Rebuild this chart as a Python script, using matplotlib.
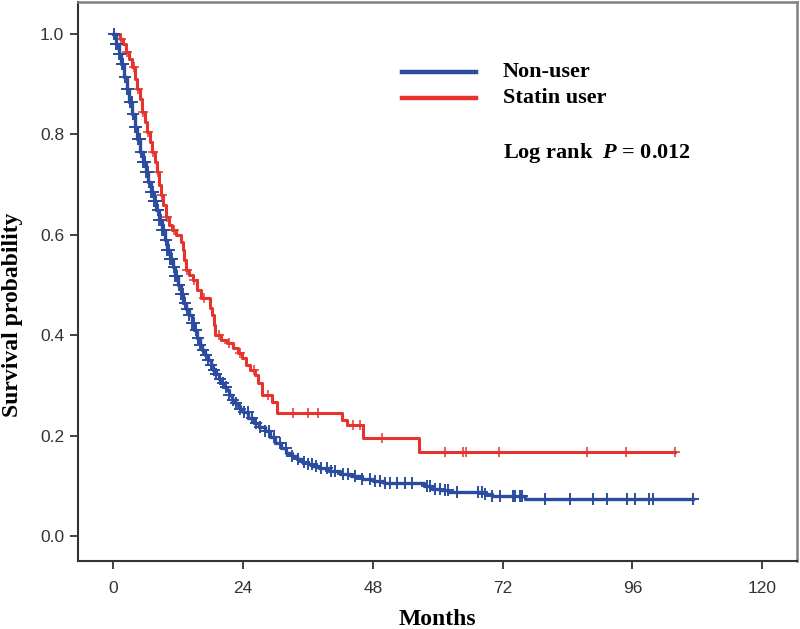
import numpy as np
import matplotlib.pyplot as plt
from matplotlib.lines import Line2D

# Kaplan-Meier step data (months, survival probability)
non_t = [0, 0.5, 1.0, 1.5, 2.0, 2.5, 3.0, 3.5, 4.0, 4.5, 5.0, 5.5, 6.0, 6.5, 7.0, 7.5,
         8.0, 8.5, 9.0, 9.5, 10.0, 10.5, 11.0, 11.5, 12.0, 12.5, 13.0, 13.5, 14.0, 14.5,
         15.0, 15.5, 16.0, 16.5, 17.0, 17.5, 18.0, 18.5, 19.0, 19.5, 20.0, 20.5, 21.0,
         21.5, 22.0, 22.5, 23.0, 23.5, 24.0, 25.0, 26.0, 27.0, 28.0, 29.0, 30.0, 31.0,
         32.0, 33.0, 34.0, 35.0, 36.0, 37.0, 38.0, 40.0, 42.0, 44.0, 46.0, 48.0, 50.0,
         57.5, 59.0, 60.5, 62.0, 68.8, 70.0, 76.2, 107.2]
non_s = [1.0, 0.98, 0.96, 0.94, 0.915, 0.89, 0.865, 0.84, 0.815, 0.79, 0.765, 0.745,
         0.725, 0.705, 0.685, 0.668, 0.65, 0.63, 0.61, 0.59, 0.57, 0.552, 0.535, 0.518,
         0.50, 0.483, 0.465, 0.452, 0.44, 0.425, 0.41, 0.395, 0.38, 0.37, 0.36, 0.35,
         0.34, 0.331, 0.322, 0.313, 0.305, 0.297, 0.29, 0.28, 0.27, 0.264, 0.258, 0.252,
         0.246, 0.236, 0.226, 0.218, 0.21, 0.198, 0.186, 0.175, 0.166, 0.159, 0.153,
         0.148, 0.143, 0.139, 0.135, 0.129, 0.124, 0.12, 0.114, 0.109, 0.106,
         0.100, 0.094, 0.091, 0.088, 0.084, 0.080, 0.073, 0.073]
non_cens = [0.2, 0.5, 0.7, 1.0, 1.3, 1.6, 1.9, 2.2, 2.5, 2.8, 3.1, 3.4, 3.7, 4.0, 4.3,
            4.6, 4.9, 5.2, 5.5, 5.8, 6.1, 6.4, 6.7, 7.0, 7.3, 7.6, 7.9, 8.2, 8.5, 8.8,
            9.1, 9.4, 9.7, 10.0, 10.3, 10.6, 10.9, 11.2, 11.5, 11.8, 12.1, 12.5, 12.9,
            13.3, 13.7, 14.1, 14.5, 14.9, 15.3, 15.7, 16.1, 16.6, 17.1, 17.6, 18.1, 18.6,
            19.1, 19.7, 20.3, 20.9, 21.5, 22.1, 22.8, 23.5, 24.2, 24.9, 25.6, 26.4, 27.2,
            28.0, 28.9, 29.8, 30.8, 31.9, 33.0, 34.1, 35.3, 36.0, 36.8, 37.5, 38.5, 39.5,
            40.2, 41.0, 42.5, 43.5, 44.7, 46.0, 47.5, 48.5, 49.4, 50.3, 51.2, 52.5, 54.0,
            55.3, 58.0, 58.6, 59.5, 60.4, 61.4, 61.9, 63.6, 67.5, 68.2, 68.8, 70.1, 71.5,
            73.9, 74.3, 75.2, 75.6, 79.9, 84.5, 88.7, 91.3, 95.0, 96.5, 99.1, 99.8, 107.2]

statin_t = [0, 1.2, 1.8, 2.4, 3.0, 3.5, 4.0, 4.4, 4.9, 5.4, 5.9, 6.3, 6.8, 7.2, 7.7, 8.1,
            8.5, 8.9, 9.3, 9.7, 10.3, 10.9, 11.6, 12.5, 12.9, 13.1, 13.4, 14.0, 14.8, 15.5,
            16.2, 17.9, 18.3, 18.6, 18.9, 20.0, 21.0, 22.2, 23.0, 23.8, 24.5, 25.3, 26.2,
            26.8, 27.5, 29.4, 30.3, 42.3, 43.3, 46.2, 56.6, 103.9]
statin_s = [1.0, 0.99, 0.98, 0.965, 0.95, 0.935, 0.91, 0.89, 0.87, 0.845, 0.825, 0.805,
            0.785, 0.765, 0.745, 0.725, 0.70, 0.68, 0.66, 0.635, 0.62, 0.61, 0.60, 0.585,
            0.57, 0.55, 0.53, 0.52, 0.51, 0.49, 0.475, 0.455, 0.44, 0.42, 0.40, 0.39,
            0.385, 0.375, 0.365, 0.355, 0.34, 0.33, 0.32, 0.305, 0.28, 0.267, 0.245,
            0.231, 0.221, 0.195, 0.168, 0.168]
statin_cens = [1.5, 2.6, 3.8, 4.6, 5.6, 6.5, 7.4, 8.3, 9.0, 10.0, 11.2, 13.6, 15.0, 16.8,
               19.5, 21.5, 23.4, 26.0, 28.6, 33.3, 36.0, 37.9, 44.4, 45.7, 49.7, 61.4,
               64.7, 65.3, 71.3, 87.6, 94.8, 103.9]

x_ticks = [0, 24, 48, 72, 96, 120]
y_ticks = [0.0, 0.2, 0.4, 0.6, 0.8, 1.0]

blue = '#2c4d9f'
red = '#e6332e'


def surv_at(t_ev, s_ev, tc):
    idx = np.searchsorted(t_ev, tc, side='right') - 1
    return np.asarray(s_ev)[idx]


plt.rcParams['mathtext.fontset'] = 'custom'
plt.rcParams['mathtext.it'] = 'Liberation Serif:italic:bold'
plt.rcParams['mathtext.rm'] = 'Liberation Serif:bold'

fig = plt.figure(figsize=(8, 6.29), dpi=100)
ax = fig.add_axes([0.0975, 0.108, 0.8985, 0.889])

ax.step(statin_t, statin_s, where='post', color=red, lw=2.2, zorder=2)
ax.plot(statin_cens, surv_at(statin_t, statin_s, statin_cens), ls='none',
        marker='+', ms=7, mew=1.1, color=red, zorder=2)
ax.step(non_t, non_s, where='post', color=blue, lw=2.4, zorder=3)
ax.plot(non_cens, surv_at(non_t, non_s, non_cens), ls='none',
        marker='+', ms=8, mew=1.4, color=blue, zorder=3)

ax.set_xlim(-6.5, 126.4)
ax.set_ylim(-0.05, 1.064)
ax.set_xticks(x_ticks)
ax.set_yticks(y_ticks)
ax.set_yticklabels([f'{v:.1f}' for v in y_ticks])

for lab in ax.get_xticklabels() + ax.get_yticklabels():
    lab.set_fontfamily('Liberation Sans')
    lab.set_fontsize(12.5)
ax.tick_params(axis='both', direction='out', length=6, width=1.3, colors='#333333')
ax.tick_params(axis='x', pad=8)
ax.tick_params(axis='y', pad=4)

for side in ['left', 'bottom']:
    ax.spines[side].set_color('#333333')
    ax.spines[side].set_linewidth(1.5)
for side in ['top', 'right']:
    ax.spines[side].set_color('#808080')
    ax.spines[side].set_linewidth(1.8)

ax.set_xlabel('Months', family='Liberation Serif', weight='bold', size=17, labelpad=10)
ax.set_ylabel('Survival probability', family='Liberation Serif', weight='bold', size=17)
ax.yaxis.set_label_coords(-0.076, 0.44)

# legend drawn by hand
ax.add_line(Line2D([0.4506, 0.5535], [0.875, 0.875], transform=ax.transAxes,
                   color=blue, lw=3.2))
ax.add_line(Line2D([0.4506, 0.5535], [0.828, 0.828], transform=ax.transAxes,
                   color=red, lw=3.2))
txt = dict(transform=ax.transAxes, family='Liberation Serif', weight='bold',
           size=16, va='center', ha='left')
ax.text(0.591, 0.875, 'Non-user', **txt)
ax.text(0.591, 0.828, 'Statin user', **txt)
ax.text(0.591, 0.730, r'Log rank  $P$ = 0.012', **txt)

fig.savefig('out.png', dpi=100)
